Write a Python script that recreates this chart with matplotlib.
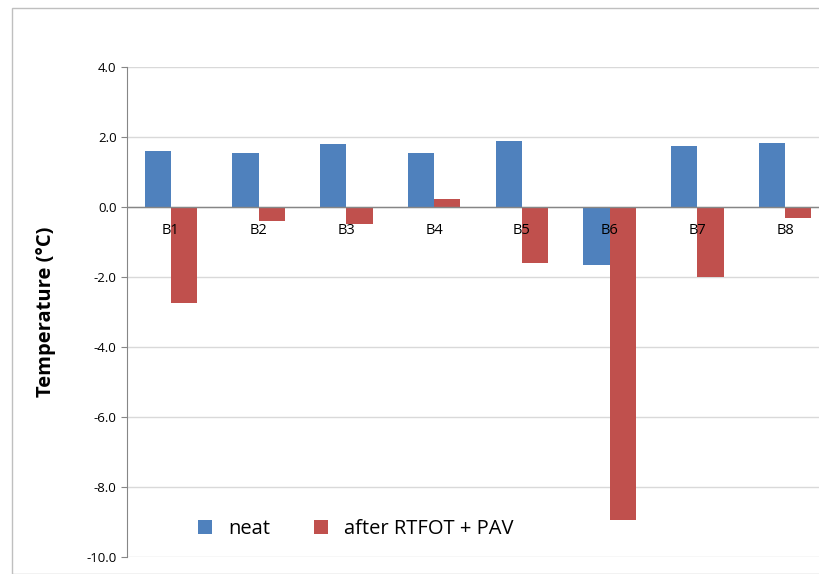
import numpy as np
import matplotlib.pyplot as plt
from matplotlib.patches import Rectangle

categories = ['B1', 'B2', 'B3', 'B4', 'B5', 'B6', 'B7', 'B8']
neat = [1.6, 1.55, 1.8, 1.55, 1.9, -1.65, 1.75, 1.82]
aged = [-2.75, -0.4, -0.48, 0.22, -1.6, -8.95, -2.0, -0.3]
yticks = [4.0, 2.0, 0.0, -2.0, -4.0, -6.0, -8.0, -10.0]

plt.rcParams['font.family'] = ['Open Sans', 'DejaVu Sans']

W, H = 819, 574
fig = plt.figure(figsize=(W / 100, H / 100), dpi=100)
fig.patches.append(Rectangle((12 / W, 0), 1, 1 - 8 / H, transform=fig.transFigure,
                             fill=False, edgecolor='#bfbfbf', linewidth=1))
ax = fig.add_axes([127 / W, (H - 557) / H, (829 - 127) / W, (557 - 67) / H])

x = np.arange(len(categories))
ax.bar(x - 0.15, neat, 0.3, color='#4F81BD', label='neat')
ax.bar(x + 0.15, aged, 0.3, color='#C0504D', label='after RTFOT + PAV')

ax.set_xlim(-0.5, len(categories) - 0.5)
ax.set_ylim(-10, 4)
ax.set_yticks(yticks)
ax.set_yticklabels(['%.1f' % v for v in yticks], fontsize=9.5)
ax.yaxis.grid(True, color='#d9d9d9', linewidth=1)
ax.set_axisbelow(True)
ax.set_xticks([])
for s in ['top', 'right', 'bottom']:
    ax.spines[s].set_visible(False)
ax.spines['left'].set_color('#868686')
ax.tick_params(axis='y', length=4, color='#868686')
ax.axhline(0, color='#868686', linewidth=1)
for i, c in enumerate(categories):
    ax.text(i, -0.45, c, ha='center', va='top', fontsize=10.5)

ax.set_ylabel('Temperature (°C)', fontsize=14.5, fontweight='bold', labelpad=22)
ax.legend(loc='lower left', bbox_to_anchor=(0.075, 0.0), ncol=2, frameon=False,
          fontsize=14.5, handlelength=0.7, handleheight=0.7, columnspacing=2.2)

fig.savefig('out.png', dpi=100)
